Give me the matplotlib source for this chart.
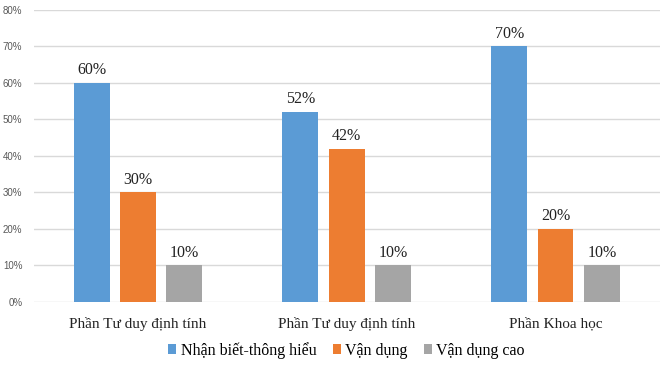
import matplotlib.pyplot as plt
import numpy as np

# dữ liệu
categories = ['Phần Tư duy định tính', 'Phần Tư duy định tính', 'Phần Khoa học']
series_names = ['Nhận biết-thông hiểu', 'Vận dụng', 'Vận dụng cao']
nhan_biet = [60, 52, 70]
van_dung = [30, 42, 20]
van_dung_cao = [10, 10, 10]
colors = ['#5B9BD5', '#ED7D31', '#A5A5A5']

fig = plt.figure(figsize=(6.6, 3.66), dpi=100)
ax = fig.add_axes([0.0508, 0.175, 0.949, 0.798])

x = np.arange(len(categories))
w = 0.172
step = 0.222
serif = 'Liberation Serif'
for i, vals in enumerate([nhan_biet, van_dung, van_dung_cao]):
    pos = x + (i - 1) * step
    bars = ax.bar(pos, vals, width=w, color=colors[i], label=series_names[i], zorder=3)
    for b, v in zip(bars, vals):
        ax.text(b.get_x() + b.get_width() / 2, v + 1.3, f'{v}%', ha='center', va='bottom',
                fontsize=11.5, family=serif, color='#222222')

ax.set_xlim(-0.5, 2.5)
ax.set_ylim(0, 80)
ax.set_yticks(range(0, 81, 10))
ax.set_yticklabels([f'{t}%' for t in range(0, 81, 10)], fontsize=7, color='#595959',
                   family='Liberation Sans')
ax.set_xticks(x)
ax.set_xticklabels(categories, fontsize=11, family=serif, color='#222222')
ax.tick_params(axis='both', length=0)
ax.tick_params(axis='x', pad=11)
ax.tick_params(axis='y', pad=8)
ax.yaxis.grid(True, color='#d9d9d9', linewidth=1, zorder=0)
for s in ax.spines.values():
    s.set_visible(False)

leg = fig.legend(loc='center', bbox_to_anchor=(0.525, 0.043), ncol=3, frameon=False,
                 prop={'family': serif, 'size': 11.5}, handlelength=0.5, handleheight=0.5,
                 handletextpad=0.3, columnspacing=1.0)

fig.savefig('out.png', dpi=100)
